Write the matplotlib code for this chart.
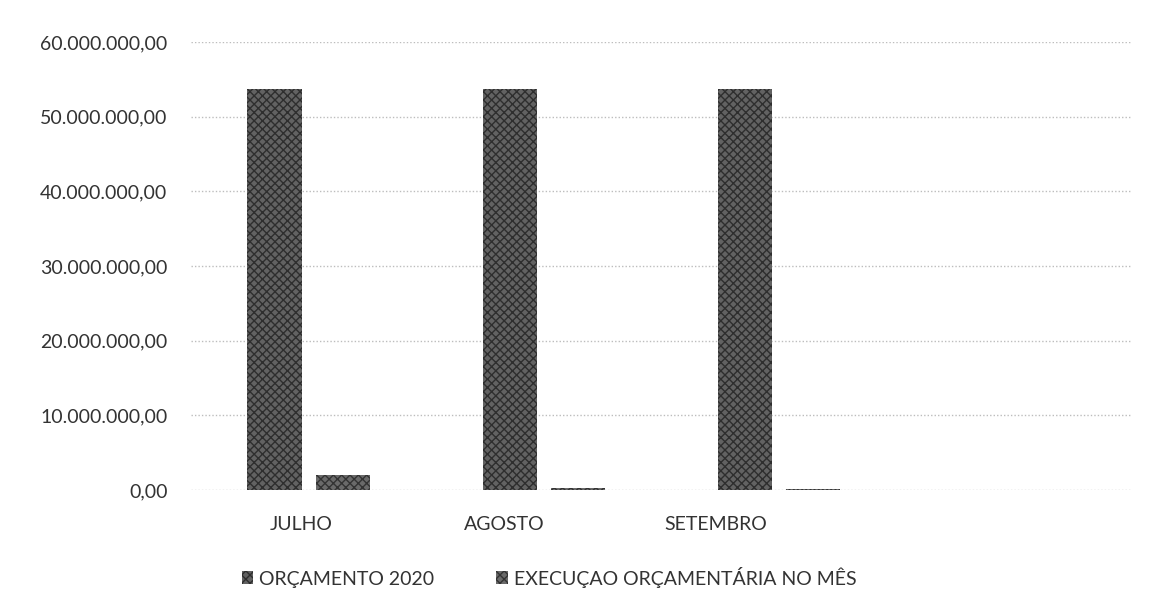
import matplotlib
matplotlib.use('Agg')
import matplotlib.pyplot as plt
from matplotlib.ticker import FuncFormatter, MultipleLocator
import numpy as np

#====Data====
meses = ['JULHO', 'AGOSTO', 'SETEMBRO', '']
orcamento = [53700000, 53700000, 53700000, 0]
execucao = [2000000, 270000, 80000, 0]
series_nomes = ['ORÇAMENTO 2020', 'EXECUÇAO ORÇAMENTÁRIA NO MÊS']

plt.rcParams['font.family'] = ['Lato', 'DejaVu Sans']


def formato_br(v, pos):
    s = '{:,.2f}'.format(v)
    return s.replace(',', 'X').replace('.', ',').replace('X', '.')


fig = plt.figure(figsize=(11.49, 6.10), dpi=100)
ax = fig.add_axes([191/1149, 1-490/610, (1132-191)/1149, (490-42)/610])

x = np.arange(len(meses))
larg = 0.23
desloc = 0.145
b1 = ax.bar(x - desloc, orcamento, larg, color='#626262', edgecolor='#2e2e2e',
            hatch='xxxx', linewidth=0, label=series_nomes[0], zorder=3)
b2 = ax.bar(x + desloc, execucao, larg, color='#6a6a6a', edgecolor='#333333',
            hatch='xxxx', linewidth=0, label=series_nomes[1], zorder=3)

ax.set_xlim(-0.5, 3.5)
ax.set_ylim(0, 60000000)
ax.yaxis.set_major_locator(MultipleLocator(10000000))
ax.yaxis.set_major_formatter(FuncFormatter(formato_br))
# rotulos no escaneado ficam um pouco deslocados para a esquerda
ax.set_xticks(x - np.array([0.03, 0.17, 0.27, 0.3]))
ax.set_xticklabels(meses)
ax.tick_params(axis='y', length=0, pad=17, labelsize=14, labelcolor='#333333')
ax.tick_params(axis='x', length=0, pad=19, labelsize=14, labelcolor='#333333')

ax.grid(axis='y', color='#bdbdbd', linestyle=(0, (1, 1.5)), linewidth=1, zorder=0)
for s in ax.spines.values():
    s.set_visible(False)

fig.legend(handles=[b1, b2], loc='center', bbox_to_anchor=(549/1149, 1-577/610),
           ncol=2, frameon=False, fontsize=14, handlelength=0.6, handleheight=0.6,
           handletextpad=0.3, columnspacing=3.2, labelcolor='#333333')

plt.savefig('out.png', dpi=100)
